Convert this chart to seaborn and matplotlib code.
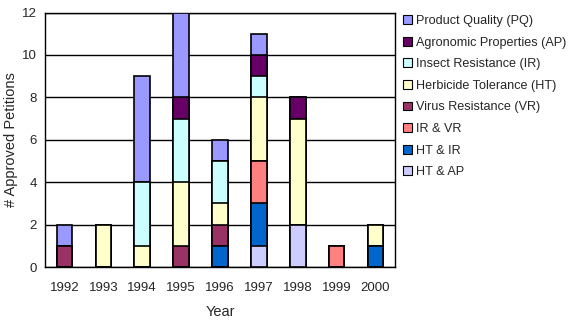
import numpy as np
import pandas as pd
import matplotlib
matplotlib.use("Agg")
import matplotlib.pyplot as plt
from matplotlib.patches import Patch
import seaborn as sns

years = ["1992", "1993", "1994", "1995", "1996", "1997", "1998", "1999", "2000"]

# stacked bottom -> top
ht_ap = [0, 0, 0, 0, 0, 1, 2, 0, 0]
ht_ir = [0, 0, 0, 0, 1, 2, 0, 0, 1]
ir_vr = [0, 0, 0, 0, 0, 2, 0, 1, 0]
vr    = [1, 0, 0, 1, 1, 0, 0, 0, 0]
ht    = [0, 2, 1, 3, 1, 3, 5, 0, 1]
ir    = [0, 0, 3, 3, 2, 1, 0, 0, 0]
ap    = [0, 0, 0, 1, 0, 1, 1, 0, 0]
pq    = [1, 0, 5, 4, 1, 1, 0, 0, 0]

series_names = ["HT & AP", "HT & IR", "IR & VR", "Virus Resistance (VR)",
                "Herbicide Tolerance (HT)", "Insect Resistance (IR)",
                "Agronomic Properties (AP)", "Product Quality (PQ)"]
series_vals = [ht_ap, ht_ir, ir_vr, vr, ht, ir, ap, pq]
colors = ["#CCCCFF", "#0066CC", "#FF8080", "#993366",
          "#FFFFCC", "#CCFFFF", "#660066", "#9999FF"]

sns.set_style("white")
plt.rcParams["font.family"] = ["Liberation Sans", "DejaVu Sans"]

fig = plt.figure(figsize=(5.68, 3.24), dpi=100)
ax = fig.add_axes([45/568, 1-267/324, (395-45)/568, (267-12.5)/324])

cum = np.cumsum(np.array(series_vals), axis=0)
# draw from tallest cumulative down so lower layers cover
for i in range(len(series_names)-1, -1, -1):
    df = pd.DataFrame({"Year": years, "v": cum[i]})
    sns.barplot(data=df, x="Year", y="v", order=years, color=colors[i],
                saturation=1, width=0.4, edgecolor="black", linewidth=1.2,
                errorbar=None, ax=ax, zorder=3)

ax.set_ylim(0, 12)
ax.set_xlim(-0.5, 8.5)
ax.set_yticks(range(0, 13, 2))
ax.yaxis.grid(True, color="black", linewidth=1)
ax.set_axisbelow(True)
for s in ax.spines.values():
    s.set_color("black")
    s.set_linewidth(1)
ax.set_xticks(np.arange(-0.5, 9, 1), minor=True)
ax.tick_params(axis="x", which="major", length=0, labelsize=9.5, pad=11)
ax.tick_params(axis="x", which="minor", length=5, direction="out", color="black", width=1)
ax.tick_params(axis="y", length=4, direction="out", color="black", width=1, labelsize=9.5, pad=2)
ax.set_xlabel("Year", fontsize=10.5, labelpad=8)
ax.set_ylabel("# Approved Petitions", fontsize=10.5, labelpad=3)

handles = [Patch(facecolor=colors[i], edgecolor="black", linewidth=0.8, label=series_names[i])
           for i in range(len(series_names)-1, -1, -1)]
fig.legend(handles=handles, loc="upper left", bbox_to_anchor=(398/568, 1-10/324),
           frameon=False, fontsize=9.1, handlelength=0.7, handleheight=0.7,
           handletextpad=0.35, labelspacing=0.76, borderaxespad=0)

fig.savefig("out.png", dpi=100)
